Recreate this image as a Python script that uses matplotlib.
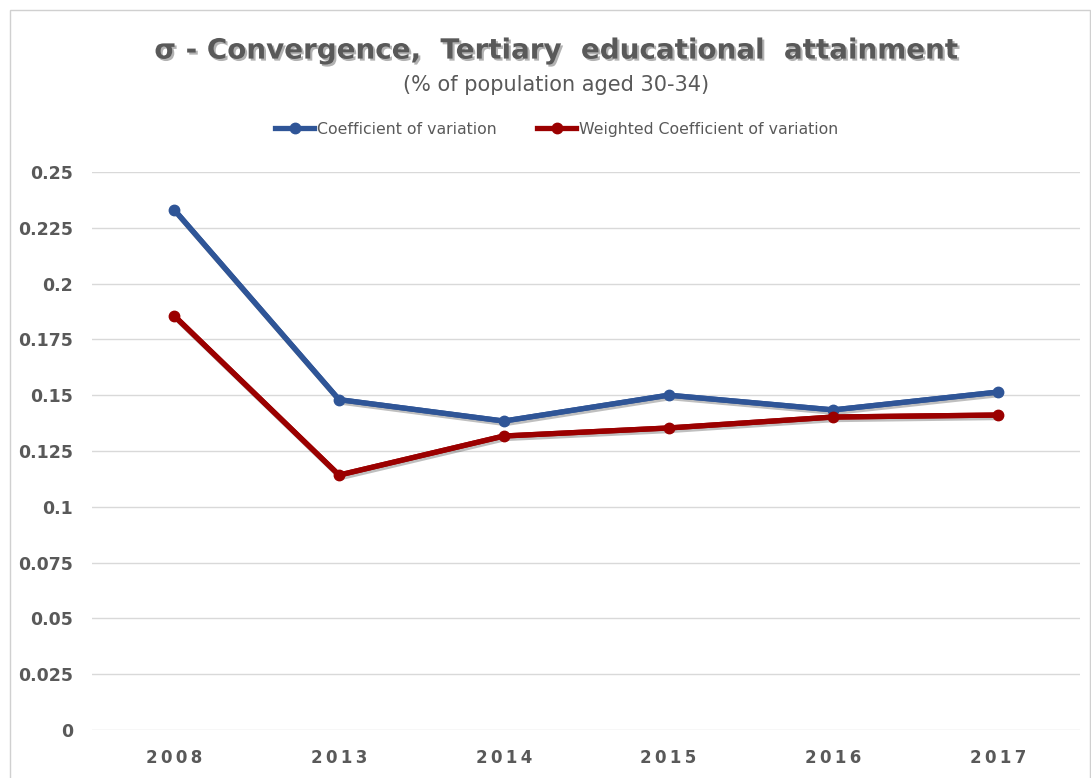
import matplotlib.pyplot as plt
import matplotlib.patheffects as pe
from matplotlib.patches import Rectangle

# data
years = ['2008', '2013', '2014', '2015', '2016', '2017']
cv = [0.233, 0.148, 0.1384, 0.150, 0.1434, 0.1514]
wcv = [0.1855, 0.1142, 0.1317, 0.1353, 0.1402, 0.1411]
yticks = [0, 0.025, 0.05, 0.075, 0.1, 0.125, 0.15, 0.175, 0.2, 0.225, 0.25]
ytick_labels = ['0', '0.025', '0.05', '0.075', '0.1', '0.125', '0.15', '0.175', '0.2', '0.225', '0.25']

grey = '#595959'
blue = '#2F5597'
red = '#9B0000'

fig = plt.figure(figsize=(10.91, 7.78), dpi=100)
ax = fig.add_axes([0.0843, 0.0617, 0.906, 0.7173])

# chart frame
fig.patches.append(Rectangle((0.009, -0.01), 0.99, 0.997, transform=fig.transFigure,
                             fill=False, edgecolor='#D0D0D0', linewidth=1))

shadow = [pe.SimpleLineShadow(offset=(1.2, -1.8), shadow_color='black', alpha=0.25), pe.Normal()]
x = range(len(years))
for vals, col, name in [(cv, blue, 'Coefficient of variation'),
                        (wcv, red, 'Weighted Coefficient of variation')]:
    ax.plot(x, vals, color=col, lw=3.8, path_effects=shadow, zorder=3)
    ax.plot(x, vals, color=col, lw=3.8, marker='o', ms=7.5, label=name, zorder=4)

ax.set_xlim(-0.5, len(years) - 0.5)
ax.set_ylim(0, 0.25)
ax.set_yticks(yticks)
ax.set_yticklabels(ytick_labels)
ax.set_xticks(list(x))
# spread the year digits a little, like the original
ax.set_xticklabels(['\u2009'.join(y) for y in years])
ax.grid(axis='y', color='#D9D9D9', lw=1)
ax.set_axisbelow(True)
for s in ax.spines.values():
    s.set_visible(False)
ax.tick_params(length=0, labelcolor=grey)
ax.tick_params(axis='y', pad=13.5, labelsize=12.5)
ax.tick_params(axis='x', pad=14, labelsize=12)
for lab in ax.get_xticklabels() + ax.get_yticklabels():
    lab.set_fontweight('bold')

title_shadow = [pe.withSimplePatchShadow(offset=(1.5, -1.5), shadow_rgbFace='black', alpha=0.3)]
fig.text(0.51, 0.935, 'σ - Convergence,  Tertiary  educational  attainment', ha='center', va='center',
         fontsize=20, fontweight='bold', color=grey, path_effects=title_shadow)
fig.text(0.51, 0.891, '(% of population aged 30-34)', ha='center', va='center',
         fontsize=15, color=grey)

leg = ax.legend(loc='center', bbox_to_anchor=(0.51, 0.834), bbox_transform=fig.transFigure,
                ncol=2, frameon=False, handlelength=2.5, handletextpad=0.15,
                columnspacing=2.6, prop={'size': 11.3})
for t in leg.get_texts():
    t.set_color(grey)

plt.savefig('out.png')
